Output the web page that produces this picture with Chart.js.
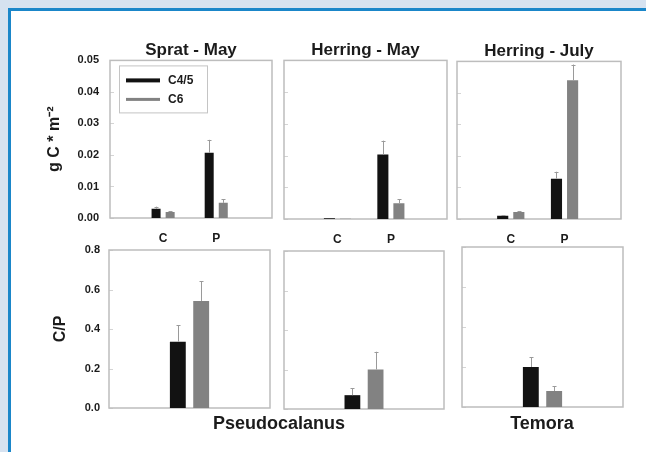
<!DOCTYPE html>
<html>
<head>
<meta charset="utf-8">
<script src="https://cdn.jsdelivr.net/npm/chart.js@4/dist/chart.umd.min.js"></script>
<style>
  html, body { margin: 0; padding: 0; width: 646px; height: 452px; overflow: hidden; background: #d6e2f0; }
  #frame { position: absolute; left: 8px; top: 8px; width: 700px; height: 500px; background: #fff;
           border-left: 3px solid #1a86c9; border-top: 3px solid #1a86c9; }
  canvas { position: absolute; }
  .lbl { position: absolute; font: bold 18px "Liberation Sans", Arial, sans-serif; color: #1b1b1b;
         transform: translate(-50%, -50%); white-space: nowrap; }
</style>
</head>
<body>
<div id="frame"></div>
<script>
// ---- data ----
const groups = ['C', 'P'];                 // x tick labels of the upper row
const groupPos = [1, 2];                   // positions of the groups on the x axis
const seriesNames = ['C4/5', 'C6'];
const panelTitles = ['Sprat - May', 'Herring - May', 'Herring - July'];
const biomassTicks = ['0.00', '0.01', '0.02', '0.03', '0.04', '0.05'];
const ratioTicks = ['0.0', '0.2', '0.4', '0.6', '0.8'];
const speciesLabels = ['Pseudocalanus', 'Temora'];

// g C * m-2, per group C / P
const spratMayC45 = [0.0029, 0.0207];
const spratMayC6 = [0.0019, 0.0048];
const spratMayC45Err = [0.0007, 0.0041];
const spratMayC6Err = [0.0003, 0.0012];

const herringMayC45 = [0.0002, 0.0203];
const herringMayC6 = [0.0001, 0.0050];
const herringMayC45Err = [0, 0.0044];
const herringMayC6Err = [0, 0.0012];

const herringJulyC45 = [0.0010, 0.0128];
const herringJulyC6 = [0.0022, 0.0440];
const herringJulyC45Err = [0.0002, 0.0022];
const herringJulyC6Err = [0.0003, 0.0050];

// C/P ratios
const pseudoSpratC45 = [0.336];
const pseudoSpratC6 = [0.542];
const pseudoSpratC45Err = [0.084];
const pseudoSpratC6Err = [0.10];

const pseudoHerringC45 = [0.07];
const pseudoHerringC6 = [0.20];
const pseudoHerringC45Err = [0.035];
const pseudoHerringC6Err = [0.09];

const temoraC45 = [0.20];
const temoraC6 = [0.08];
const temoraC45Err = [0.05];
const temoraC6Err = [0.025];

// ---- drawing ----
const FONT = '"Liberation Sans", Arial, sans-serif';
const INK = '#1b1b1b';
const BLACK = '#121212';
const GREY = '#828282';
Chart.defaults.font.family = FONT;
Chart.defaults.color = INK;

// plot frame around the chart area, with short inward ticks on the left edge
const framePlugin = {
  id: 'frame',
  beforeDatasetsDraw(chart) {
    const a = chart.chartArea, ctx = chart.ctx, y = chart.scales.y;
    ctx.save();
    ctx.strokeStyle = '#d4d4d4';
    ctx.lineWidth = 1;
    y.ticks.forEach(t => {
      const py = Math.round(y.getPixelForValue(t.value)) + 0.5;
      ctx.beginPath();
      ctx.moveTo(a.left, py);
      ctx.lineTo(a.left + 4, py);
      ctx.stroke();
    });
    ctx.strokeStyle = '#bdbdbd';
    ctx.lineWidth = 1.5;
    ctx.strokeRect(a.left, a.top, a.right - a.left, a.bottom - a.top);
    ctx.restore();
  }
};

// upward error whiskers, taken from each dataset's err array
const errorPlugin = {
  id: 'errbars',
  afterDatasetsDraw(chart) {
    const ctx = chart.ctx, y = chart.scales.y;
    ctx.save();
    ctx.strokeStyle = '#9a9a9a';
    ctx.lineWidth = 1;
    chart.data.datasets.forEach((ds, d) => {
      const meta = chart.getDatasetMeta(d);
      meta.data.forEach((bar, i) => {
        const e = ds.err[i];
        if (!e) return;
        const v = meta._parsed[i].y;
        const yTop = y.getPixelForValue(v + e);
        const x = Math.round(bar.x) + 0.5;
        ctx.beginPath();
        ctx.moveTo(x, bar.y);
        ctx.lineTo(x, yTop);
        ctx.moveTo(x - 2, Math.round(yTop) + 0.5);
        ctx.lineTo(x + 2, Math.round(yTop) + 0.5);
        ctx.stroke();
      });
    });
    ctx.restore();
  }
};

// boxed legend in the upper-left corner of the first panel
const boxLegendPlugin = {
  id: 'boxLegend',
  afterDraw(chart) {
    const a = chart.chartArea, ctx = chart.ctx;
    const bx = a.left + 9, by = a.top + 5;
    ctx.save();
    ctx.strokeStyle = '#c4c4c4';
    ctx.lineWidth = 1;
    ctx.strokeRect(bx + 0.5, by + 0.5, 88, 47);
    ctx.font = 'bold 12px ' + FONT;
    ctx.textBaseline = 'middle';
    chart.data.datasets.forEach((ds, i) => {
      const ly = by + 15 + i * 19;
      ctx.fillStyle = ds.backgroundColor;
      ctx.fillRect(bx + 7, ly - (i === 0 ? 2 : 1.5), 34, i === 0 ? 4 : 3);
      ctx.fillStyle = INK;
      ctx.fillText(ds.label, bx + 49, ly);
    });
    ctx.restore();
  }
};

// fixed-width y axis without extra label overflow padding
const fixY = s => { s.width = 70; s.paddingTop = 0; s.paddingBottom = 0; };

function addCanvas(left, top, width, height) {
  const c = document.createElement('canvas');
  c.width = width; c.height = height;
  c.style.left = left + 'px'; c.style.top = top + 'px';
  c.style.width = width + 'px'; c.style.height = height + 'px';
  document.body.appendChild(c);
  return c;
}

// upper row: biomass panels with C / P groups
function biomassPanel(p) {
  const canvasLeft = p.L - 70, canvasTop = p.T - 30;
  const c = addCanvas(canvasLeft, canvasTop, p.R - p.L + 74, p.B - canvasTop + 30);
  const mk = (label, vals, err, color) => ({
    label, err,
    data: groupPos.map((x, i) => ({ x, y: vals[i] })),
    backgroundColor: color, borderWidth: 0,
    categoryPercentage: p.cat, barPercentage: p.bar
  });
  new Chart(c, {
    type: 'bar',
    data: { datasets: [mk(seriesNames[0], p.c45, p.c45Err, BLACK), mk(seriesNames[1], p.c6, p.c6Err, GREY)] },
    options: {
      responsive: false, animation: false, devicePixelRatio: 1,
      layout: { padding: { left: 0, right: 4, top: 0, bottom: 0 } },
      plugins: {
        legend: { display: false }, tooltip: { enabled: false },
        title: { display: true, fullSize: false, text: p.title, color: INK, font: { size: 17, weight: 'bold' }, padding: { top: 10, bottom: 0 } }
      },
      scales: {
        x: {
          type: 'linear', min: 0, max: 3.05, offset: false,
          grid: { display: false, drawTicks: false }, border: { display: false },
          afterBuildTicks: s => { s.ticks = groupPos.map(v => ({ value: v })); },
          ticks: { callback: (v, i) => groups[i], color: INK, font: { size: 12, weight: 'bold' }, padding: 13, maxRotation: 0, autoSkip: false },
          afterFit: s => { s.height = 30; }
        },
        y: {
          min: 0, max: 0.05,
          grid: { display: false, drawTicks: false }, border: { display: false },
          ticks: { stepSize: 0.01, display: p.showY, callback: (v, i) => biomassTicks[i], color: INK, font: { size: 11, weight: 'bold' }, padding: 11 },
          title: { display: p.showY, text: 'g C * m⁻²', color: INK, font: { size: 16, weight: 'bold' }, padding: { top: 5, bottom: 0 } },
          afterFit: fixY
        }
      }
    },
    plugins: p.legend ? [framePlugin, errorPlugin, boxLegendPlugin] : [framePlugin, errorPlugin]
  });
}

// lower row: C/P ratio panels with a single group
function ratioPanel(p) {
  const canvasLeft = p.L - 70, canvasTop = p.T - 12;
  const c = addCanvas(canvasLeft, canvasTop, p.R - p.L + 74, p.B - canvasTop + 10);
  const mk = (label, vals, err, color) => ({
    label, err, data: vals, backgroundColor: color, borderWidth: 0,
    categoryPercentage: 0.29, barPercentage: 0.68
  });
  new Chart(c, {
    type: 'bar',
    data: { labels: [''], datasets: [mk(seriesNames[0], p.c45, p.c45Err, BLACK), mk(seriesNames[1], p.c6, p.c6Err, GREY)] },
    options: {
      responsive: false, animation: false, devicePixelRatio: 1,
      layout: { padding: { left: 0, right: 4, top: 12, bottom: 10 } },
      plugins: { legend: { display: false }, tooltip: { enabled: false } },
      scales: {
        x: { display: false },
        y: {
          min: 0, max: 0.8,
          grid: { display: false, drawTicks: false }, border: { display: false },
          ticks: { stepSize: 0.2, display: p.showY, callback: (v, i) => ratioTicks[i], color: INK, font: { size: 11, weight: 'bold' }, padding: 9 },
          title: { display: p.showY, text: 'C/P', color: INK, font: { size: 16, weight: 'bold' }, padding: { top: 12, bottom: 0 } },
          afterFit: fixY
        }
      }
    },
    plugins: [framePlugin, errorPlugin]
  });
}

biomassPanel({ L: 110, T: 60, R: 272, B: 218, title: panelTitles[0], showY: true, legend: true, cat: 0.53, bar: 0.64,
  c45: spratMayC45, c6: spratMayC6, c45Err: spratMayC45Err, c6Err: spratMayC6Err });
biomassPanel({ L: 284, T: 60, R: 447, B: 219, title: panelTitles[1], showY: false, legend: false, cat: 0.6, bar: 0.69,
  c45: herringMayC45, c6: herringMayC6, c45Err: herringMayC45Err, c6Err: herringMayC6Err });
biomassPanel({ L: 457, T: 61, R: 621, B: 219, title: panelTitles[2], showY: false, legend: false, cat: 0.6, bar: 0.69,
  c45: herringJulyC45, c6: herringJulyC6, c45Err: herringJulyC45Err, c6Err: herringJulyC6Err });

ratioPanel({ L: 109, T: 250, R: 270, B: 408, showY: true,
  c45: pseudoSpratC45, c6: pseudoSpratC6, c45Err: pseudoSpratC45Err, c6Err: pseudoSpratC6Err });
ratioPanel({ L: 284, T: 251, R: 444, B: 409, showY: false,
  c45: pseudoHerringC45, c6: pseudoHerringC6, c45Err: pseudoHerringC45Err, c6Err: pseudoHerringC6Err });
ratioPanel({ L: 462, T: 247, R: 623, B: 407, showY: false,
  c45: temoraC45, c6: temoraC6, c45Err: temoraC45Err, c6Err: temoraC6Err });

// species names under the lower row
[[speciesLabels[0], 279, 423], [speciesLabels[1], 542, 423]].forEach(([t, x, y]) => {
  const d = document.createElement('div');
  d.className = 'lbl';
  d.textContent = t;
  d.style.left = x + 'px';
  d.style.top = y + 'px';
  document.body.appendChild(d);
});
</script>
</body>
</html>
